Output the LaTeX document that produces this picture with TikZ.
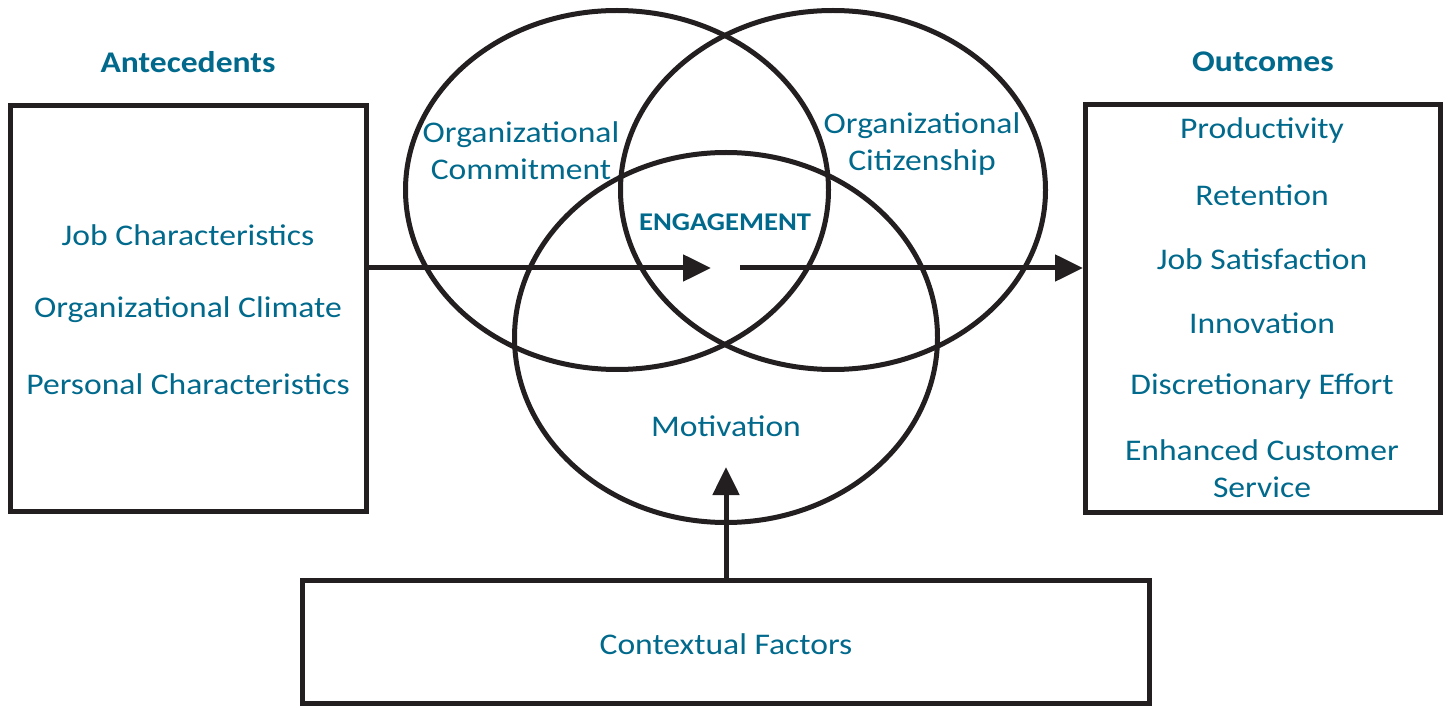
\documentclass[tikz,border=0pt]{standalone}
\usepackage{fontspec}
\setmainfont{Carlito}[FakeStretch=1.12]
\usetikzlibrary{arrows.meta,shapes.geometric}
\definecolor{teal}{HTML}{00698C}
\definecolor{ink}{HTML}{231F20}
\begin{document}
\begin{tikzpicture}[x=1pt,y=-1pt,
  box/.style={draw=ink,line width=5pt,inner sep=0pt},
  ring/.style={ellipse,draw=ink,line width=5pt,inner sep=0pt},
  lbl/.style={text=teal,font=\fontsize{30}{37}\selectfont,align=center,inner sep=0pt},
  head/.style={text=teal,font=\fontsize{30}{37}\selectfont\bfseries,inner sep=0pt},
  arr/.style={draw=ink,line width=5pt,-{Triangle[length=28pt,width=26pt]}}]
\useasboundingbox (0,0) rectangle (1448,708);
% ellipses
\node[ring,minimum width=423pt,minimum height=359pt] (oc) at (617,190) {};
\node[ring,minimum width=425pt,minimum height=359pt] (ci) at (833,190) {};
\node[ring,minimum width=423pt,minimum height=370pt] (mo) at (726,337.5) {};
% boxes
\node[box,minimum width=356pt,minimum height=406pt] (ante) at (188.5,308.5) {};
\node[box,minimum width=355pt,minimum height=407pt] (outc) at (1263,308.5) {};
\node[box,minimum width=847pt,minimum height=123pt] (ctx) at (726,642) {};
% headings
\node[head] (hA) at (188,62) {Antecedents};
\node[head] (hO) at (1263,62) {Outcomes};
% left texts
\node[lbl] (a1) at (188,235) {Job Characteristics};
\node[lbl] (a2) at (188,310) {Organizational Climate};
\node[lbl] (a3) at (188,384) {Personal Characteristics};
% right texts
\node[lbl] (o1) at (1262,131) {Productivity};
\node[lbl] (o2) at (1262,195) {Retention};
\node[lbl] (o3) at (1262,259) {Job Satisfaction};
\node[lbl] (o4) at (1262,323) {Innovation};
\node[lbl] (o5) at (1262,387) {Discretionary Effort};
\node[lbl] (o6) at (1262,469) {Enhanced Customer\\Service};
% ellipse texts
\node[lbl] (t1) at (521,151) {Organizational\\Commitment};
\node[lbl] (t2) at (922,144) {Organizational\\Citizenship};
\node[text=teal,font=\fontsize{25.5}{30}\selectfont\bfseries,inner sep=0pt] (eng) at (725,222) {ENGAGEMENT};
\node[lbl] (t3) at (726,426) {Motivation};
\node[lbl] (t4) at (726,644) {Contextual Factors};
% arrows
\coordinate (mid1) at (711,268);
\coordinate (mid2) at (740,268);
\coordinate (motb) at (726,467);
\draw[arr] (ante.east |- mid1) -- (mid1);
\draw[arr] (mid2) -- (outc.west |- mid2);
\draw[arr] (ctx.north -| motb) -- (motb);
\end{tikzpicture}
\end{document}
